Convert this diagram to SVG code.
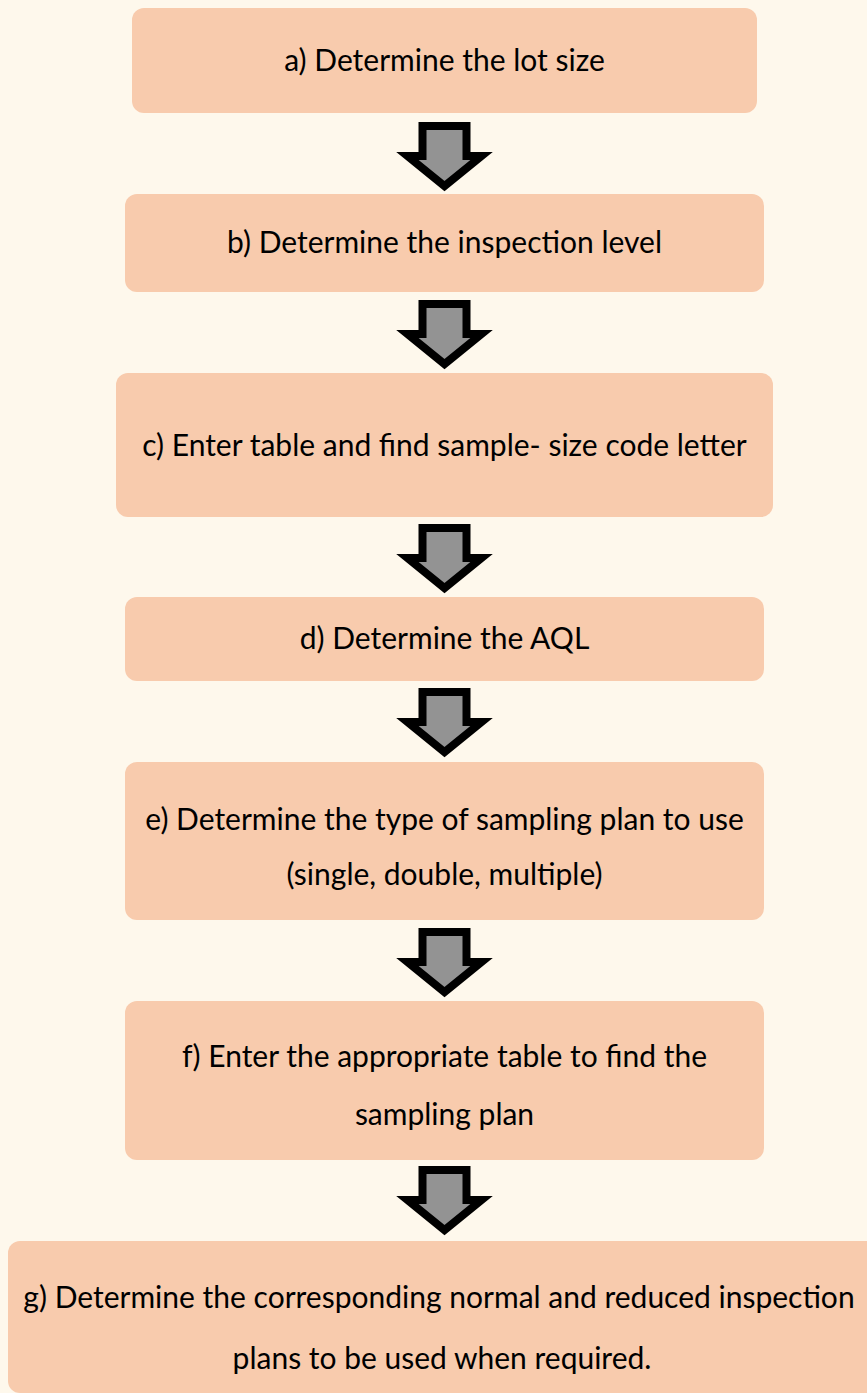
<svg xmlns="http://www.w3.org/2000/svg" width="867" height="1393" viewBox="0 0 867 1393">
<defs>
<style>
.bg{fill:#FEF8EC}
.box{fill:#F8CBAD}
.t{font-family:Lato,"Open Sans","Liberation Sans",sans-serif;font-size:30px;fill:#000;text-anchor:middle}
.arr{fill:#939393;stroke:#000;stroke-width:8;stroke-linejoin:miter;stroke-miterlimit:10}
</style>
<path id="arrow" class="arr" d="M-22,4 H22 V34 H37 L0,64 L-37,34 H-22 Z"/>
</defs>
<rect class="bg" x="0" y="0" width="867" height="1393"/>
<g id="connectors">
<use href="#arrow" x="444.5" y="122"/>
<use href="#arrow" x="444.5" y="300"/>
<use href="#arrow" x="444.5" y="524"/>
<use href="#arrow" x="444.5" y="688"/>
<use href="#arrow" x="444.5" y="928"/>
<use href="#arrow" x="444.5" y="1166"/>
</g>
<g id="node-a">
<rect class="box" x="132" y="8" width="625" height="105" rx="12"/>
<text class="t" x="444.5" y="71">a) Determine the lot size</text>
</g>
<g id="node-b">
<rect class="box" x="125" y="194" width="639" height="98" rx="12"/>
<text class="t" x="444.5" y="253">b) Determine the inspection level</text>
</g>
<g id="node-c">
<rect class="box" x="116" y="373" width="657" height="144" rx="12"/>
<text class="t" x="444.5" y="456">c) Enter table and find sample- size code letter</text>
</g>
<g id="node-d">
<rect class="box" x="125" y="597" width="639" height="84" rx="12"/>
<text class="t" x="444.5" y="649">d) Determine the AQL</text>
</g>
<g id="node-e">
<rect class="box" x="125" y="762" width="639" height="158" rx="12"/>
<text class="t" x="444.5" y="830">e) Determine the type of sampling plan to use</text>
<text class="t" x="444.5" y="885">(single, double, multiple)</text>
</g>
<g id="node-f">
<rect class="box" x="125" y="1001" width="639" height="159" rx="12"/>
<text class="t" x="444.5" y="1067">f) Enter the appropriate table to find the</text>
<text class="t" x="444.5" y="1125">sampling plan</text>
</g>
<g id="node-g">
<rect class="box" x="8" y="1241" width="880" height="152" rx="12"/>
<text class="t" x="439" y="1308">g) Determine the corresponding normal and reduced inspection</text>
<text class="t" x="442" y="1369">plans to be used when required.</text>
</g>
</svg>
